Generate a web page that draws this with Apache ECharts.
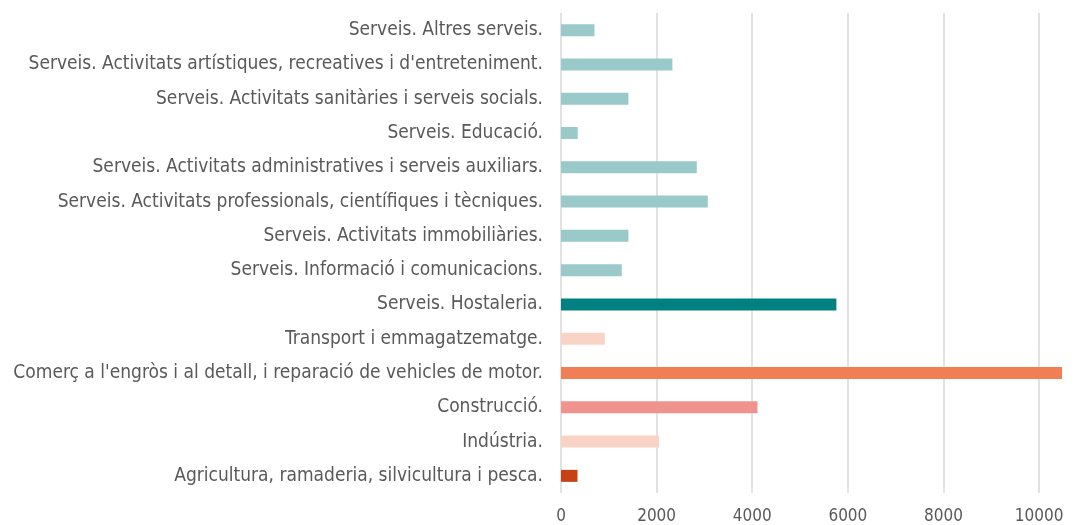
<!DOCTYPE html>
<html>
<head>
<meta charset="utf-8">
<script src="https://cdn.jsdelivr.net/npm/echarts@6/dist/echarts.min.js"></script>
<style>html,body{margin:0;padding:0;background:#fff}#c{width:1081px;height:525px}</style>
</head>
<body>
<div id="c"></div>
<script>
// Categories, top to bottom as shown
const categories = [
  "Serveis. Altres serveis.",
  "Serveis. Activitats artístiques, recreatives i d'entreteniment.",
  "Serveis. Activitats sanitàries i serveis socials.",
  "Serveis. Educació.",
  "Serveis. Activitats administratives i serveis auxiliars.",
  "Serveis. Activitats professionals, científiques i tècniques.",
  "Serveis. Activitats immobiliàries.",
  "Serveis. Informació i comunicacions.",
  "Serveis. Hostaleria.",
  "Transport i emmagatzematge.",
  "Comerç a l'engròs i al detall, i reparació de vehicles de motor.",
  "Construcció.",
  "Indústria.",
  "Agricultura, ramaderia, silvicultura i pesca."
];
const values = [700, 2330, 1410, 350, 2840, 3070, 1410, 1270, 5760, 915, 10480, 4110, 2050, 345];
const barColors = ["#99c9c9","#99c9c9","#99c9c9","#99c9c9","#99c9c9","#99c9c9","#99c9c9","#99c9c9",
  "#008080","#f9d4c6","#f07f55","#f0938f","#f9d4c6","#c84115"];
const xTicks = [0, 2000, 4000, 6000, 8000, 10000];

const chart = echarts.init(document.getElementById('c'), null, {renderer: 'canvas'});
const font = "'DejaVu Sans Condensed', 'DejaVu Sans', sans-serif";
chart.setOption({
  animation: false,
  grid: {left: 561, right: 18, top: 13, bottom: 32, containLabel: false},
  xAxis: {
    type: 'value', min: 0, max: 10500, interval: 2000,
    axisLine: {show: false}, axisTick: {show: false},
    splitLine: {show: true, showMaxLine: false, lineStyle: {color: '#d9d9d9', width: 1.5}},
    axisLabel: {
      color: '#595959', fontSize: 17, fontFamily: font, margin: 15,
      formatter: v => xTicks.includes(v) ? String(v) : ''
    }
  },
  yAxis: {
    type: 'category', data: categories, inverse: true,
    axisLine: {show: false}, axisTick: {show: false},
    axisLabel: {color: '#595959', fontSize: 19, fontFamily: font, margin: 18}
  },
  series: [{
    type: 'bar',
    barWidth: 12,
    data: values.map((v, i) => ({value: v, itemStyle: {color: barColors[i]}}))
  }]
});
</script>
</body>
</html>
